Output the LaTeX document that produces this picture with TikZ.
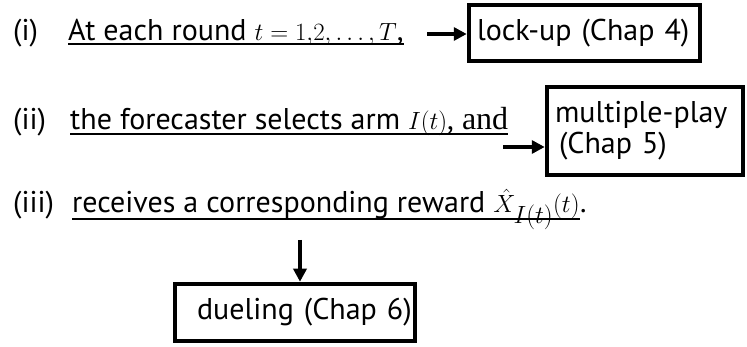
\documentclass[tikz,border=0pt]{standalone}
\usepackage{fontspec}
\setmainfont{PT Sans}
\newfontfamily\serifc{Liberation Serif}
\usetikzlibrary{arrows.meta}
\newcommand{\mybigmath}[1]{{\fontsize{34}{36}\selectfont$#1$}}
\begin{document}
\begin{tikzpicture}[x=1pt,y=-1pt,
  txt/.style={anchor=base west,inner sep=0pt,font=\fontsize{30}{31}\selectfont},
  chbox/.style={draw,line width=4.5pt,align=left,font=\fontsize{30}{31}\selectfont,inner ysep=0pt},
  ul/.style={line width=1.6pt},
  conn/.style={line width=4pt,-{Triangle[length=13pt,width=13pt]}}]
\useasboundingbox (0,0) rectangle (747,347);
% labels
\node[txt] (n1) at (13,41) {(i)};
\node[txt] (n2) at (13,130) {(ii)};
\node[txt] (n3) at (13,213) {(iii)};
% sentences
\node[txt] (l1) at (68,41) {At each round \mybigmath{t=1{,}2, \ldots, T},};
\node[txt] (l2) at (70,130) {the forecaster selects arm \mybigmath{I(t)}, {\serifc\fontsize{32}{34}\selectfont and}};
\node[txt] (l3) at (72,213) {receives a corresponding reward \mybigmath{\hat{X}_{I(t)}(t)}};
\node[txt,anchor=base west] (p3) at (l3.base east) {.};
\draw[ul] ([yshift=-3pt]l1.base west) -- ([yshift=-3pt]l1.base east);
\draw[ul] ([yshift=-4pt]l2.base west) -- ([yshift=-4pt]l2.base east);
\draw[ul] ([yshift=-6pt]l3.base west) -- ([yshift=-6pt]l3.base east);
% boxes
\node[chbox,text width=215pt,inner xsep=8pt,minimum height=56pt] (b1) at (584.5,33) {\mbox{lock-up (Chap 4)}};
\node[chbox,text width=180pt,inner xsep=8pt,minimum height=88pt] (b2) at (645,131) {\mbox{multiple-play}\\\mbox{\hspace*{4pt}(Chap 5)}};
\node[chbox,text width=232pt,inner xsep=4pt,minimum height=57pt] (b3) at (295,312.5) {\mbox{\hspace*{18pt}dueling (Chap 6)}};
% connectors
\coordinate (s1) at (427,34);
\coordinate (s2) at (503,147);
\coordinate (s3) at (300,240);
\draw[conn] (s1) -- (s1 -| b1.west);
\draw[conn] (s2) -- (s2 -| b2.west);
\draw[conn] (s3) -- (s3 |- b3.north);
\end{tikzpicture}
\end{document}
